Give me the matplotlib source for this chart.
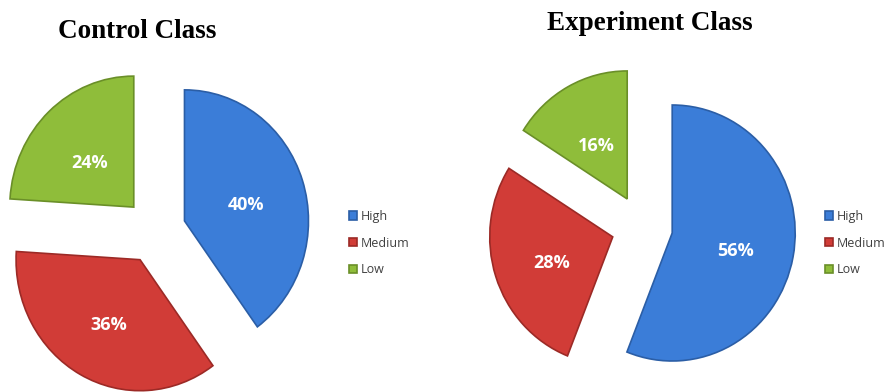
import matplotlib
matplotlib.use("Agg")
import matplotlib.pyplot as plt

W, H = 894, 392

labels = ["High", "Medium", "Low"]
control_values = [40, 36, 24]
experiment_values = [56, 28, 16]
titles = ["Control Class", "Experiment Class"]

colors = ["#3b7dd8", "#d13c37", "#8fbd3a"]
edges = ["#2b5ea6", "#9c2a26", "#6a8f28"]


def pie_axes(fig, box, center, unit):
    """Axes covering pixel box (x0, y0, x1, y1), pie centre/unit given in pixels."""
    x0, y0, x1, y1 = box
    cx, cy = center
    ux, uy = unit
    ax = fig.add_axes([x0 / W, 1 - y1 / H, (x1 - x0) / W, (y1 - y0) / H])
    lims = ((x0 - cx) / ux, (x1 - cx) / ux), ((cy - y1) / uy, (cy - y0) / uy)
    return ax, lims


def draw_pie(ax, lims, values):
    wedges, _, autotexts = ax.pie(
        values, colors=colors, explode=[0.25] * len(values),
        startangle=90, counterclock=False, autopct="%d%%", pctdistance=0.52,
        wedgeprops=dict(linewidth=1.2),
        textprops=dict(color="white", fontsize=13, fontweight="bold",
                       family="Open Sans"),
    )
    for w, e in zip(wedges, edges):
        w.set_edgecolor(e)
    # Excel's tilted 3D view puts the labels a little lower
    for t in autotexts:
        x, y = t.get_position()
        t.set_position((x, y - 0.04))
    ax.set_aspect("auto")
    ax.set_xlim(lims[0])
    ax.set_ylim(lims[1])
    return wedges


fig = plt.figure(figsize=(W / 100, H / 100), dpi=100)

ax1, lims1 = pie_axes(fig, (0, 45, 330, 392), (155, 231), (124, 131))
w1 = draw_pie(ax1, lims1, control_values)

ax2, lims2 = pie_axes(fig, (470, 45, 820, 392), (642, 227), (123, 128))
w2 = draw_pie(ax2, lims2, experiment_values)

fig.text(137 / W, 1 - 31 / H, titles[0], ha="center", va="center",
         family="Liberation Serif", fontweight="bold", fontsize=19.5)
fig.text(650 / W, 1 - 23 / H, titles[1], ha="center", va="center",
         family="Liberation Serif", fontweight="bold", fontsize=19.5)

for wedges, x in [(w1, 338), (w2, 814)]:
    leg = fig.legend(wedges, labels, loc="center left",
                     bbox_to_anchor=(x / W, 1 - 243 / H), frameon=False,
                     handlelength=0.65, handleheight=0.65, handletextpad=0.25,
                     labelspacing=1.1, prop=dict(family="Open Sans", size=9))
    for t in leg.get_texts():
        t.set_color("#404040")

fig.savefig("out.png", dpi=100)
